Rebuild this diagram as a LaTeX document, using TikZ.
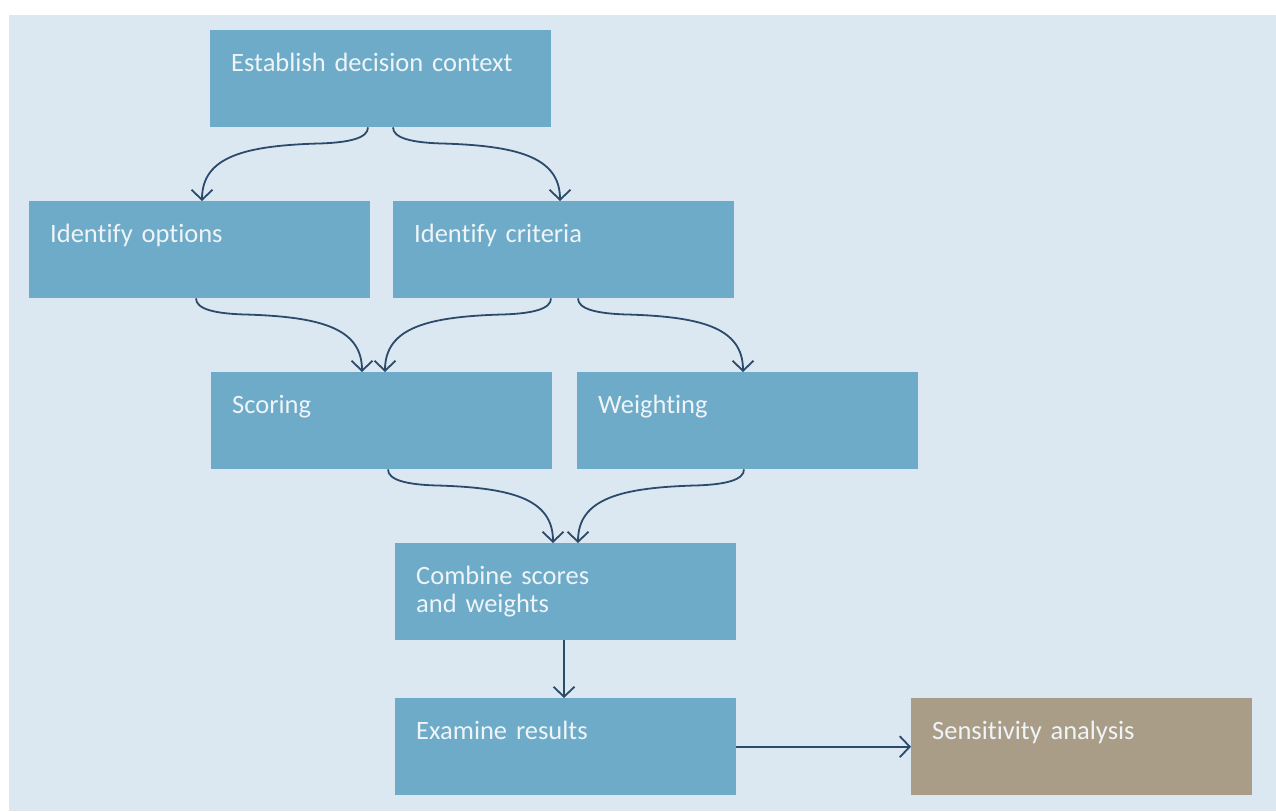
\documentclass[tikz,border=0pt]{standalone}
\usepackage{fontspec}
\setmainfont{Carlito}[Ligatures={NoCommon},WordSpace=0.85]
\usetikzlibrary{arrows.meta}
\definecolor{bgblue}{HTML}{DBE8F1}
\definecolor{boxblue}{HTML}{6DABC9}
\definecolor{boxtan}{HTML}{AA9D87}
\definecolor{arrowc}{HTML}{2C4A6B}
\definecolor{txtc}{HTML}{EEF4F7}
\tikzset{
  stepbox/.style={rectangle, fill=boxblue, anchor=north west, inner xsep=21pt, inner ysep=0pt,
    text width=299pt, align=left, text height=41pt, text depth=56pt,
    text=txtc, font=\fontsize{26.5}{28}\selectfont},
  tanbox/.style={stepbox, fill=boxtan},
  arr/.style={draw=arrowc, line width=1.8pt, -{Straight Barb[length=10pt,width=21pt,line width=1.8pt]}}
}
\begin{document}
\begin{tikzpicture}[x=1pt,y=-1pt]
\useasboundingbox (0,0) rectangle (1276,811);
\fill[white] (0,0) rectangle (1276,811);
\fill[bgblue] (9,15) rectangle (1276,811);
\node[stepbox] (est) at (210,30) {Establish decision context};
\node[stepbox] (opt) at (29,201) {Identify options};
\node[stepbox] (crit) at (393,201) {Identify criteria};
\node[stepbox] (score) at (211,372) {Scoring};
\node[stepbox] (weight) at (577,372) {Weighting};
\node[stepbox] (comb) at (395,543) {Combine scores\\and weights};
\node[stepbox] (exam) at (395,698) {Examine results};
\node[tanbox] (sens) at (911,698) {Sensitivity analysis};
% leftward curves
\draw[arr] ([xshift=158pt]est.south west) .. controls +(0,11) and +(26,-1) .. ++(-46,16)
  .. controls +(-76,2) and +(0,-45) .. ([xshift=173pt]opt.north west);
\draw[arr] ([xshift=158pt]crit.south west) .. controls +(0,11) and +(26,-1) .. ++(-46,16)
  .. controls +(-76,2) and +(0,-45) .. ([xshift=174pt]score.north west);
\draw[arr] ([xshift=167pt]weight.south west) .. controls +(0,11) and +(26,-1) .. ++(-46,16)
  .. controls +(-76,2) and +(0,-45) .. ([xshift=183pt]comb.north west);
% rightward curves
\draw[arr] ([xshift=183pt]est.south west) .. controls +(0,11) and +(-26,-1) .. ++(46,16)
  .. controls +(76,2) and +(0,-45) .. ([xshift=167pt]crit.north west);
\draw[arr] ([xshift=167pt]opt.south west) .. controls +(0,11) and +(-26,-1) .. ++(46,16)
  .. controls +(76,2) and +(0,-45) .. ([xshift=151pt]score.north west);
\draw[arr] ([xshift=185pt]crit.south west) .. controls +(0,11) and +(-26,-1) .. ++(46,16)
  .. controls +(76,2) and +(0,-45) .. ([xshift=166pt]weight.north west);
\draw[arr] ([xshift=177pt]score.south west) .. controls +(0,11) and +(-26,-1) .. ++(46,16)
  .. controls +(76,2) and +(0,-45) .. ([xshift=158pt]comb.north west);
% straight
\draw[arr] ([xshift=169pt]comb.south west) -- ([xshift=169pt]exam.north west);
\draw[arr] (exam.east) -- (sens.west);
\end{tikzpicture}
\end{document}
